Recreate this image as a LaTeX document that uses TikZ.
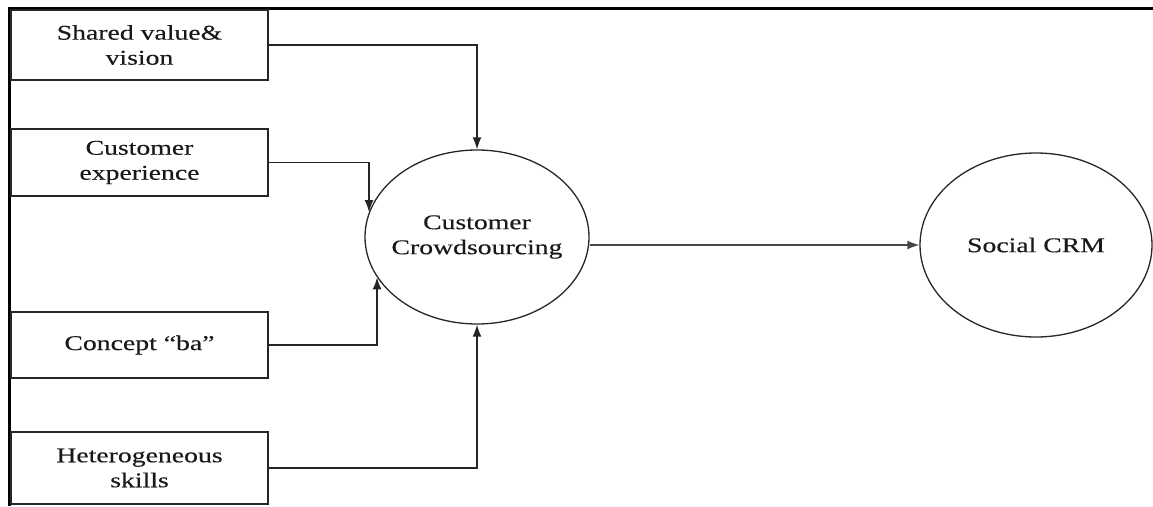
\documentclass[tikz,border=0pt]{standalone}
\usepackage{fontspec}
\setmainfont{Liberation Serif}[FakeStretch=1.32,FakeBold=0.3]
\usetikzlibrary{shapes.geometric,arrows.meta}
\definecolor{ln}{HTML}{262626}
\tikzset{
  factor/.style={draw=ln, line width=1.8pt, minimum width=257pt, align=center,
    font=\fontsize{21}{25}\selectfont, text=black!90, inner sep=0pt},
  construct/.style={ellipse, draw=ln, line width=1.3pt, align=center,
    font=\fontsize{21}{25}\selectfont, text=black!90, inner sep=0pt},
  link/.style={draw=ln, line width=1.4pt, -{Latex[length=12pt,width=9pt]}},
  frameline/.style={draw=black, line width=3pt}
}
\begin{document}
\begin{tikzpicture}[x=1pt,y=-1pt]
\useasboundingbox (0,0) rectangle (1153,506);
\coordinate (tl) at (9,8);
\coordinate (tr) at (1153,8);
\coordinate (bl) at (9,506);
\draw[frameline] (tr) -- (tl) -- (bl);
\node[factor, minimum height=70pt] (b1) at (139.5,45) {Shared value\&\\vision};
\node[factor, minimum height=67pt] (b2) at (139.5,162.5) {Customer\\experience};
\node[factor, minimum height=66pt] (b3) at (139.5,345) {Concept “ba”};
\node[factor, minimum height=72pt] (b4) at (139.5,468) {Heterogeneous\\skills};
\node[construct, inner xsep=-10pt, minimum width=224pt, minimum height=174pt] (c1) at (477,237) {Customer\\Crowdsourcing};
\node[construct, minimum width=232pt, minimum height=184pt] (c2) at (1036,245) {Social CRM};
\draw[link] (b1.east) -| (c1.north);
\draw[link] (b2.east) -| (c1.167.5);
\draw[link] (b3.east) -| (c1.202);
\draw[link] (b4.east) -| (c1.south);
\draw[link, draw=ln!85] (c1.east |- c2.west) -- (c2.west);
\end{tikzpicture}
\end{document}
